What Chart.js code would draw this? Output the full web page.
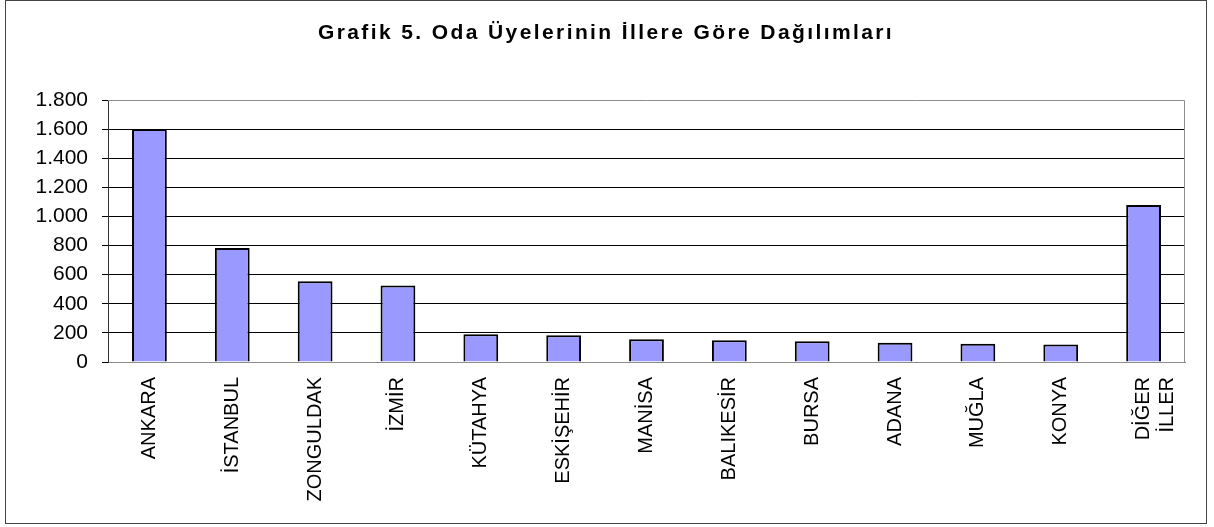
<!DOCTYPE html>
<html>
<head>
<meta charset="utf-8">
<script src="https://cdn.jsdelivr.net/npm/chart.js@4"></script>
<style>
    html, body { margin: 0; padding: 0; background: #fff; }
    #kutu { position: absolute; left: 5px; top: 0; width: 1200px; height: 522px; border: 1px solid #444; pointer-events: none; }
    canvas { position: absolute; left: 0; top: 0; }
</style>
</head>
<body>
<canvas id="grafik" width="1214" height="527"></canvas>
<div id="kutu"></div>
<script>
const baslik = 'Grafik 5. Oda Üyelerinin İllere Göre Dağılımları';
const iller = ['ANKARA', 'İSTANBUL', 'ZONGULDAK', 'İZMİR', 'KÜTAHYA', 'ESKİŞEHİR', 'MANİSA',
    'BALIKESİR', 'BURSA', 'ADANA', 'MUĞLA', 'KONYA', ['DİĞER', 'İLLER']];
const uyeSayilari = [1600, 784, 554, 526, 191, 184, 156, 149, 143, 133, 126, 120, 1078];
const eksenMax = 1800;
const eksenAdim = 200;

const yazi = 'Liberation Sans, Arial, sans-serif';

function binlik(v) {
    return String(v).replace(/\B(?=(\d{3})+(?!\d))/g, '.');
}

// plot alanının çerçevesi (gri) ve harf aralıklı başlık
const cerceve = {
    id: 'cerceve',
    afterDraw(chart) {
        const a = chart.chartArea;
        const ctx = chart.ctx;
        ctx.save();
        ctx.strokeStyle = '#8c8c8c';
        ctx.lineWidth = 1;
        ctx.beginPath();
        ctx.moveTo(a.left, a.top + 0.5);
        ctx.lineTo(a.right - 0.5, a.top + 0.5);
        ctx.lineTo(a.right - 0.5, a.bottom);
        ctx.stroke();

        ctx.fillStyle = '#000';
        ctx.font = 'bold 21px ' + yazi;
        ctx.letterSpacing = '2.4px';
        ctx.textAlign = 'center';
        ctx.textBaseline = 'middle';
        ctx.fillText(baslik, 606, 33);
        ctx.restore();
    }
};

new Chart(document.getElementById('grafik'), {
    type: 'bar',
    data: {
        labels: iller,
        datasets: [{
            data: uyeSayilari,
            backgroundColor: '#9999ff',
            borderColor: '#000',
            borderWidth: 2,
            barPercentage: 0.42,
            categoryPercentage: 1
        }]
    },
    options: {
        responsive: false,
        animation: false,
        layout: { padding: { left: 0, right: 29, top: 100, bottom: 0 } },
        plugins: {
            legend: { display: false },
            tooltip: { enabled: false },
            title: { display: false }
        },
        scales: {
            x: {
                grid: { display: false },
                border: { color: '#8c8c8c', width: 1 },
                ticks: {
                    color: '#000',
                    font: { family: yazi, size: 20 },
                    minRotation: 90,
                    maxRotation: 90,
                    padding: 7,
                    autoSkip: false
                },
                afterFit(scale) { scale.height = 165; }
            },
            y: {
                min: 0,
                max: eksenMax,
                grid: {
                    color: ctx => ctx.tick && ctx.tick.value === eksenMax ? 'rgba(0,0,0,0)' : '#000',
                    tickColor: '#000',
                    tickLength: 6
                },
                border: { color: '#333', width: 1 },
                ticks: {
                    stepSize: eksenAdim,
                    color: '#000',
                    padding: 14,
                    font: { family: yazi, size: 21 },
                    callback: v => binlik(v)
                },
                afterFit(scale) { scale.width = 108; }
            }
        }
    },
    plugins: [cerceve]
});
</script>
</body>
</html>
